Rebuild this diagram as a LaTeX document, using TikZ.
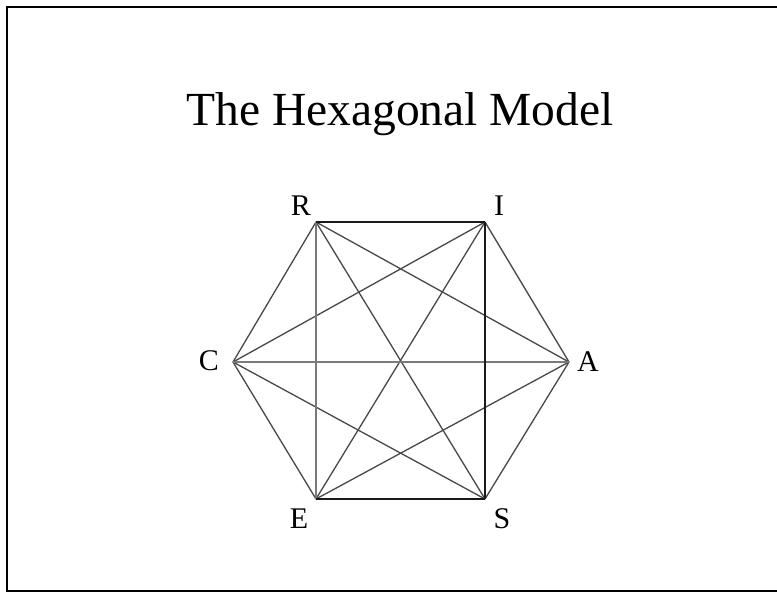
\documentclass[tikz,border=0pt]{standalone}
\usepackage{fontspec}
\setmainfont{Liberation Serif}
\usepackage{xcolor}
\usepackage{tikz}
\usetikzlibrary{positioning}
\definecolor{ink}{HTML}{1A1A1A}
\definecolor{soft}{HTML}{7A7A7A}

\begin{document}
\begin{tikzpicture}[x=1pt, y=-1pt,
    vlab/.style={font=\fontsize{30}{32}\selectfont, inner sep=0pt, anchor=base},
    edge/.style={draw=ink!80, line width=1.3pt},
    heavy/.style={draw=ink, line width=2.2pt},
    faint/.style={draw=soft, line width=1.3pt}]

  \useasboundingbox (0,0) rectangle (777,592);
  \draw[line width=2pt] (7,6.5) rectangle (790,591);

  \node[font=\fontsize{47.5}{52}\selectfont, inner sep=0pt, anchor=base] (title) at (400,125) {The Hexagonal Model};

  % corners of the hexagon
  \coordinate (R) at (316,222);
  \coordinate (I) at (485,222);
  \coordinate (A) at (569,362);
  \coordinate (S) at (485,499);
  \coordinate (E) at (316,499);
  \coordinate (C) at (233,362);

  \node[vlab] (lR) at (301,215) {R};
  \node[vlab] (lI) at (499,215) {I};
  \node[vlab] (lA) at (588,371) {A};
  \node[vlab] (lS) at (502,528) {S};
  \node[vlab] (lE) at (299,528) {E};
  \node[vlab] (lC) at (209,370) {C};

  \foreach \a/\b in {R/A, R/S, I/C, I/E, C/S, E/A, I/A, A/S, E/C, C/R}
    \draw[edge] (\a) -- (\b);
  \draw[faint] (R) -- (E);
  \draw[faint] (C) -- (A);
  \draw[heavy] (R) -- (I);
  \draw[heavy] (E) -- (S);
  \draw[heavy] (I) -- (S);
\end{tikzpicture}
\end{document}
